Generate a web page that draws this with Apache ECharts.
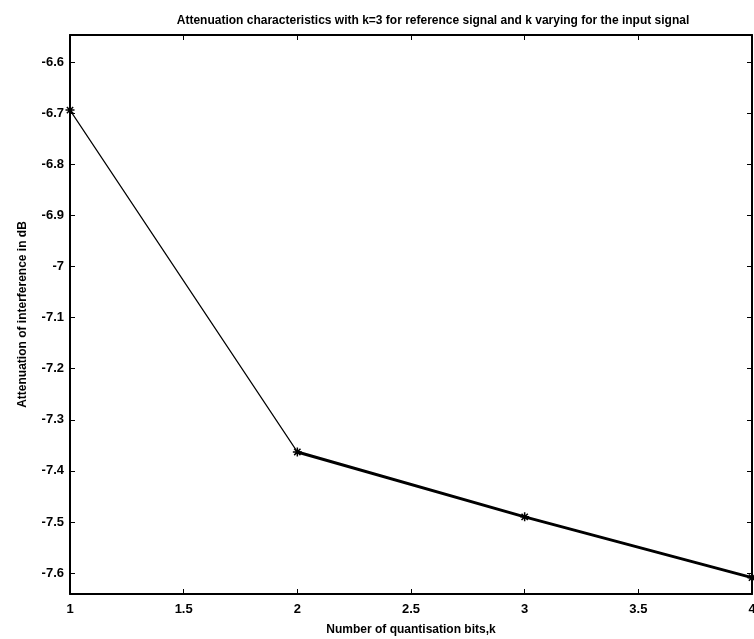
<!DOCTYPE html>
<html>
<head>
<meta charset="utf-8">
<script src="https://cdn.jsdelivr.net/npm/echarts@6/dist/echarts.min.js"></script>
<style>
html, body {margin: 0; padding: 0; background: #fff;}
#chart {width: 754px; height: 639px;}
</style>
</head>
<body>
<div id="chart"></div>
<script>
// quantisation bits and measured attenuation (dB)
var bits = [1, 2, 3, 4];
var attenuation = [-6.694, -7.363, -7.490, -7.609];
var yTicks = [-7.6, -7.5, -7.4, -7.3, -7.2, -7.1, -7, -6.9, -6.8, -6.7, -6.6];
var xTicks = [1, 1.5, 2, 2.5, 3, 3.5, 4];

var font = "Liberation Sans";
var star = "path://M5,0L5,10M0,5L10,5M1.5,1.5L8.5,8.5M8.5,1.5L1.5,8.5";

var thin = bits.map(function (b, i) { return [b, attenuation[i]]; });
var thick = bits.map(function (b, i) { return [b, i === 0 ? null : attenuation[i]]; });

var myChart = echarts.init(document.getElementById("chart"));
var option = {
	backgroundColor: "#fff",
	animation: false,
	title: {
		text: "Attenuation characteristics with k=3 for reference signal and k varying for the input signal",
		left: 428, top: 10, textAlign: "center",
		textStyle: {fontFamily: font, fontSize: 12, fontWeight: "bold", color: "#000"}
	},
	grid: {left: 70, right: 2, top: 35, bottom: 45, outerBoundsMode: "none"},
	xAxis: [{
		type: "value", min: 1, max: 4,
		name: "Number of quantisation bits,k", nameLocation: "middle", nameGap: 30,
		nameTextStyle: {fontFamily: font, fontSize: 12, fontWeight: "bold", color: "#000"},
		axisLine: {lineStyle: {color: "#000", width: 2}},
		axisTick: {inside: true, length: 5, customValues: xTicks, lineStyle: {color: "#000"}},
		axisLabel: {customValues: xTicks, fontFamily: font, fontSize: 13, fontWeight: "bold", color: "#000", margin: 9},
		splitLine: {show: false}
	}, {
		type: "value", min: 1, max: 4, position: "top",
		axisLine: {lineStyle: {color: "#000", width: 2}},
		axisTick: {inside: true, length: 5, customValues: xTicks, lineStyle: {color: "#000"}},
		axisLabel: {show: false},
		splitLine: {show: false}
	}],
	yAxis: [{
		type: "value", min: -7.641, max: -6.547,
		name: "Attenuation of interference in dB", nameLocation: "middle", nameGap: 41,
		nameTextStyle: {fontFamily: font, fontSize: 12, fontWeight: "bold", color: "#000"},
		axisLine: {lineStyle: {color: "#000", width: 2}},
		axisTick: {inside: true, length: 5, customValues: yTicks, lineStyle: {color: "#000"}},
		axisLabel: {
			customValues: yTicks, fontFamily: font, fontSize: 13, fontWeight: "bold", color: "#000", margin: 6,
			formatter: function (v) { return String(Math.round(v * 10) / 10); }
		},
		splitLine: {show: false}
	}, {
		type: "value", min: -7.641, max: -6.547, position: "right",
		axisLine: {lineStyle: {color: "#000", width: 2}},
		axisTick: {inside: true, length: 5, customValues: yTicks, lineStyle: {color: "#000"}},
		axisLabel: {show: false},
		splitLine: {show: false}
	}],
	series: [{
		type: "line",
		data: thin,
		lineStyle: {color: "#000", width: 1.2},
		symbol: star, symbolSize: 9, showSymbol: true,
		itemStyle: {color: "none", borderColor: "#000", borderWidth: 1.5}
	}, {
		type: "line",
		data: thick,
		lineStyle: {color: "#000", width: 3},
		symbol: "none"
	}]
};
myChart.setOption(option);
</script>
</body>
</html>
